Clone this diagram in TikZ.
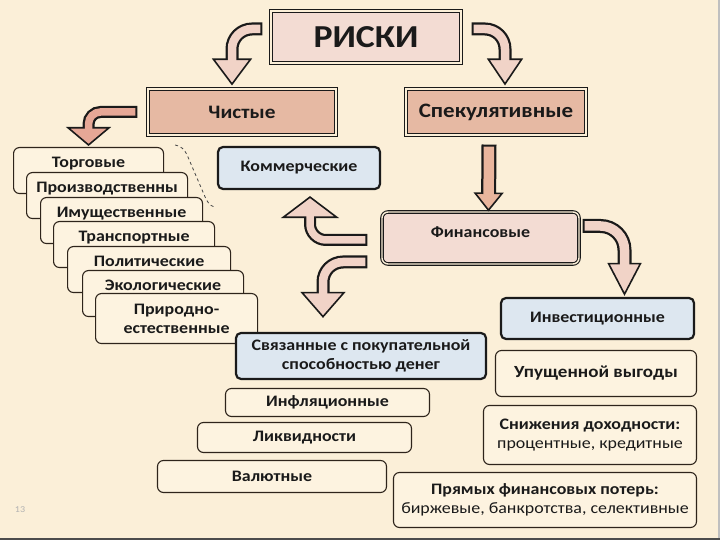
\documentclass[tikz,border=0pt]{standalone}
\usepackage{fontspec}
\setmainfont{Carlito}[FakeStretch=1.12]
\usetikzlibrary{arrows.meta,calc,positioning}
\definecolor{ink}{HTML}{1A1A1A}
\definecolor{paper}{HTML}{FBEFD8}
\definecolor{cardfill}{HTML}{FDF3E0}
\definecolor{cardline}{HTML}{2E241B}
\definecolor{rose}{HTML}{F3DCD3}
\definecolor{salmon}{HTML}{E6B9A3}
\definecolor{sky}{HTML}{DDE7F0}
\definecolor{arrowpink}{HTML}{F1D3C7}
\definecolor{arrowsalmon}{HTML}{E6A796}
\definecolor{arrowpeach}{HTML}{E9B59D}
\tikzset{
  basebox/.style={align=center,text=ink,inner sep=3pt,font=\bfseries\fontsize{16}{19}\selectfont},
  dblbox/.style={basebox,draw=ink,line width=1.1pt,double=paper,double distance=1.4pt},
  bluebox/.style={basebox,draw=ink,line width=2.2pt,fill=sky,rounded corners=5pt},
  cardbox/.style={basebox,draw=cardline,line width=1.1pt,fill=cardfill,rounded corners=6pt},
  stackcard/.style={cardbox,anchor=north west,minimum height=46pt,text height=17pt,text depth=23pt}
}
% fat bent arrow: fill, head width, head length, shaft width, path
\newcommand{\bendarrow}[6][]{%
  \pgfmathsetmacro\headcut{#4-4}%
  \pgfmathsetmacro\shaftin{#5-4.5}%
  \draw[#1,line width=#5pt,draw=ink,-{Triangle[length=#4pt,width=#3pt,line width=1.6pt,fill=#2]}] #6;
  \draw[#1,line width=\shaftin pt,draw=#2,shorten <=2pt,shorten >=\headcut pt] #6;
}

\begin{document}
\begin{tikzpicture}[x=1pt,y=1pt]
  \useasboundingbox (0,0) rectangle (720,540);
  \fill[paper] (0,0) rectangle (720,540);
  \draw[line width=1.5pt,draw=black!25] (719,0) -- (719,540);
  \draw[line width=2pt,draw=black!70] (0,1) -- (720,1);

  % top level
  \node[dblbox,fill=rose,minimum width=190pt,minimum height=52pt,font=\bfseries\fontsize{32}{34}\selectfont] (risk) at (366,503) {РИСКИ};
  \node[dblbox,fill=salmon,minimum width=188pt,minimum height=46pt,font=\bfseries\fontsize{19}{21}\selectfont] (pure) at (242,428) {Чистые};
  \node[dblbox,fill=salmon,minimum width=180pt,minimum height=46pt,font=\bfseries\fontsize{20.5}{22}\selectfont] (spec) at (496,428) {Спекулятивные};

  % pure risks, stacked
  \node[stackcard,minimum width=150pt] (trade) at (13,393) {Торговые};
  \node[stackcard,minimum width=161pt] (prod) at (26,368) {Производственны};
  \node[stackcard,minimum width=162pt] (prop) at (40,343) {Имущественные};
  \node[stackcard,minimum width=161pt] (trans) at (53,319) {Транспортные};
  \node[stackcard,minimum width=163pt] (polit) at (67,294) {Политические};
  \node[stackcard,minimum width=161pt] (eco) at (82,270) {Экологические};
  \node[cardbox,anchor=north west,minimum width=162pt,minimum height=50pt] (nat) at (95,247) {Природно-\\естественные};
  \draw[dashed,line width=0.8pt,draw=ink!80] ([xshift=11pt,yshift=2pt]trade.north east) to[out=-10,in=115] ++(12,-10) -- ++(18,-42) to[out=-65,in=160] ([xshift=11pt,yshift=-10pt]prop.north east);

  % speculative risks
  \node[bluebox,minimum width=162pt,minimum height=42pt] (comm) at (299,372) {Коммерческие};
  \node[dblbox,fill=rose,rounded corners=6pt,minimum width=197pt,minimum height=52pt,text height=22pt,text depth=22pt] (fin) at (480.5,302) {Финансовые};
  \node[bluebox,minimum width=193pt,minimum height=41pt] (invest) at (597.5,221.5) {Инвестиционные};
  \node[cardbox,minimum width=201pt,minimum height=46pt,font=\bfseries\fontsize{17}{19}\selectfont] (lost) at (596,166.5) {Упущенной выгоды};
  \node[cardbox,minimum width=213pt,minimum height=59pt] (yield) at (590,105) {Снижения доходности:\\\mdseries процентные, кредитные};
  \node[cardbox,minimum width=303pt,minimum height=55pt] (direct) at (545,40) {Прямых финансовых потерь:\\\mdseries биржевые, банкротства, селективные};
  \node[bluebox,minimum width=250pt,minimum height=46pt] (money) at (361,184) {Связанные с покупательной\\способностью денег};
  \node[cardbox,minimum width=204pt,minimum height=28pt] (infl) at (327.5,137.5) {Инфляционные};
  \node[cardbox,minimum width=214pt,minimum height=30pt] (liq) at (304.5,102.5) {Ликвидности};
  \node[cardbox,minimum width=229pt,minimum height=32pt] (curr) at (272,63.5) {Валютные};

  % arrows
  \bendarrow[rounded corners=20pt]{arrowpink}{40}{27}{13}{([xshift=-8pt,yshift=8pt]risk.west) -| ([xshift=-10pt,yshift=3pt]pure.north)}
  \bendarrow[rounded corners=20pt]{arrowpink}{36}{27}{13}{([xshift=10pt,yshift=8pt]risk.east) -| ([xshift=9pt,yshift=3pt]spec.north)}
  \bendarrow[rounded corners=12pt]{arrowsalmon}{45}{19}{12}{([xshift=-10pt]pure.west) -| ([yshift=1pt]trade.north)}
  \bendarrow{arrowpeach}{30}{19}{15}{([xshift=-7pt,yshift=-9pt]spec.south) -- ([xshift=8pt]fin.north)}
  \bendarrow[rounded corners=16pt]{arrowpink}{58}{22}{12}{([xshift=-14pt,yshift=-2pt]fin.west) -| ([xshift=11pt,yshift=-6pt]comm.south)}
  \bendarrow[rounded corners=20pt]{arrowpink}{45}{26}{13}{([xshift=-14pt,yshift=-24pt]fin.west) -| ([xshift=-38pt,yshift=14pt]money.north)}
  \bendarrow[rounded corners=24pt]{arrowpink}{34}{33}{14}{([xshift=3pt,yshift=12pt]fin.east) -| ([xshift=27pt,yshift=1pt]invest.north)}

  \node[text=black!30,font=\fontsize{9}{10}\selectfont] (page) at (20,30) {13};
\end{tikzpicture}
\end{document}
